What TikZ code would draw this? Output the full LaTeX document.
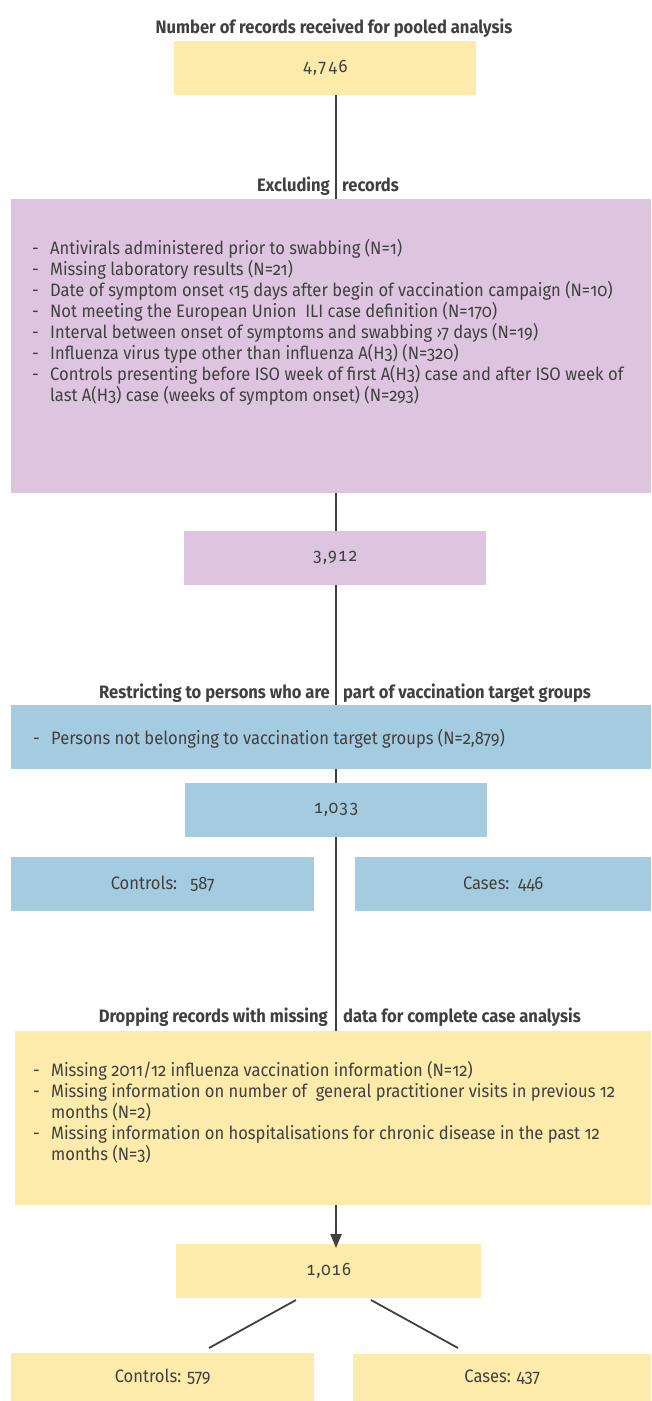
\documentclass[tikz,border=0pt]{standalone}
\usepackage{fontspec}
\setmainfont{Fira Sans}[Numbers=OldStyle, FakeStretch=0.92]
\newfontfamily\boxnum{Fira Sans}[Numbers={OldStyle,Monospaced}, FakeStretch=0.92, LetterSpace=5]
\usetikzlibrary{arrows.meta}
\definecolor{ylw}{HTML}{FCEBAB}
\definecolor{prp}{HTML}{DEC5DF}
\definecolor{blu}{HTML}{A5CBE0}
\definecolor{txt}{HTML}{404040}
\newcommand{\dashitem}{\makebox[18pt][l]{-}}
\begin{document}
\begin{tikzpicture}[x=1pt,y=-1pt,
  every node/.style={text=txt, font=\fontsize{18}{21}\selectfont},
  bx/.style={anchor=north west, inner sep=0pt, draw=none},
  num/.style={font=\fontsize{18}{21}\selectfont\boxnum},
  lbl/.style={font=\fontsize{18}{21}\selectfont\bfseries, inner sep=0pt},
  lst/.style={anchor=north west, inner sep=0pt, align=left},
  conn/.style={draw=txt, line width=2.2pt}]
\useasboundingbox (0,0) rectangle (651,1401);
\coordinate (sp) at (336,0);
% title
\node[lbl, anchor=base] (title) at (334,33) {Number of records received for pooled analysis};
\node[bx, fill=ylw, minimum width=302pt, minimum height=54pt] (b1) at (174,41) {};
\node[num] (t1) at (b1.center) {4,746};
% excluding
\node[lbl, anchor=base east] (exa) at (330,191) {Excluding};
\node[lbl, anchor=base west] (exb) at (342,191) {records};
\node[bx, fill=prp, minimum width=640pt, minimum height=294pt] (excl) at (11,199) {};
\node[lst] (exlist) at (32,238) {%
\rule{0pt}{16pt}\dashitem Antivirals administered prior to swabbing (N=1)\\
\dashitem Missing laboratory results (N=21)\\
\dashitem Date of symptom onset ‹15 days after begin of vaccination campaign (N=10)\\
\dashitem Not meeting the European Union\ \ ILI case definition (N=170)\\
\dashitem Interval between onset of symptoms and swabbing ›7 days (N=19)\\
\dashitem Influenza virus type other than influenza A(H3) (N=320)\\
\dashitem Controls presenting before ISO week of first A(H3) case and after ISO week of\\
\hspace*{18pt}last A(H3) case (weeks of symptom onset) (N=293)};
\node[bx, fill=prp, minimum width=302pt, minimum height=54pt] (b2) at (184,531) {};
\node[num] (t2) at (b2.center) {3,912};
% restricting
\node[lbl, anchor=base east] (rea) at (330,698) {Restricting to persons who are};
\node[lbl, anchor=base west] (reb) at (343,698) {part of vaccination target groups};
\node[bx, fill=blu, minimum width=640pt, minimum height=64pt] (restr) at (11,705) {};
\node[lst, anchor=base west] (relist) at (33,744) {\dashitem Persons not belonging to vaccination target groups (N=2,879)};
\node[bx, fill=blu, minimum width=302pt, minimum height=54pt] (b3) at (185,783) {};
\node[num] (t3) at (b3.center) {1,033};
\node[bx, fill=blu, minimum width=303pt, minimum height=54pt] (c1) at (11,857) {};
\node (tc1) at (c1.center) {Controls:\ \ \ 587};
\node[bx, fill=blu, minimum width=296pt, minimum height=54pt] (k1) at (355,857) {};
\node (tk1) at (k1.center) {Cases:\ \ 446};
% dropping
\node[lbl, anchor=base east] (dra) at (328,1022) {Dropping records with missing};
\node[lbl, anchor=base west] (drb) at (343,1022) {data for complete case analysis};
\node[bx, fill=ylw, minimum width=636pt, minimum height=174pt] (drop) at (15,1031) {};
\node[lst] (drlist) at (33,1060) {%
\rule{0pt}{16pt}\dashitem Missing 2011/12 influenza vaccination information (N=12)\\
\dashitem Missing information on number of\ \ general practitioner visits in previous 12\\
\hspace*{18pt}months (N=2)\\
\dashitem Missing information on hospitalisations for chronic disease in the past 12\\
\hspace*{18pt}months (N=3)};
\node[bx, fill=ylw, minimum width=305pt, minimum height=54pt] (b4) at (176,1244) {};
\node[num] (t4) at (b4.center) {1,016};
\node[bx, fill=ylw, minimum width=303pt, minimum height=48pt] (c2) at (11,1353) {};
\node (tc2) at (c2.center) {Controls: 579};
\node[bx, fill=ylw, minimum width=298pt, minimum height=47pt] (k2) at (353,1354) {};
\node (tk2) at (k2.center) {Cases: 437};
% connectors
\draw[conn] (sp |- b1.south) -- (sp |- excl.north);
\draw[conn] (sp |- excl.south) -- (sp |- b2.north);
\draw[conn] (sp |- b2.south) -- (sp |- restr.north);
\draw[conn] (sp |- restr.south) -- (sp |- b3.north);
\draw[conn] (sp |- b3.south) -- (sp |- drop.north);
\draw[conn, -{Triangle[width=11pt,length=14pt]}] (sp |- drop.south) -- ([yshift=-4pt]sp |- b4.north);
\coordinate (dl1) at (296,1300);
\coordinate (dl2) at (209,1348);
\coordinate (dr1) at (371,1300);
\coordinate (dr2) at (458,1348);
\draw[conn, line width=1.8pt] (dl1) -- (dl2);
\draw[conn, line width=1.8pt] (dr1) -- (dr2);
\end{tikzpicture}
\end{document}
